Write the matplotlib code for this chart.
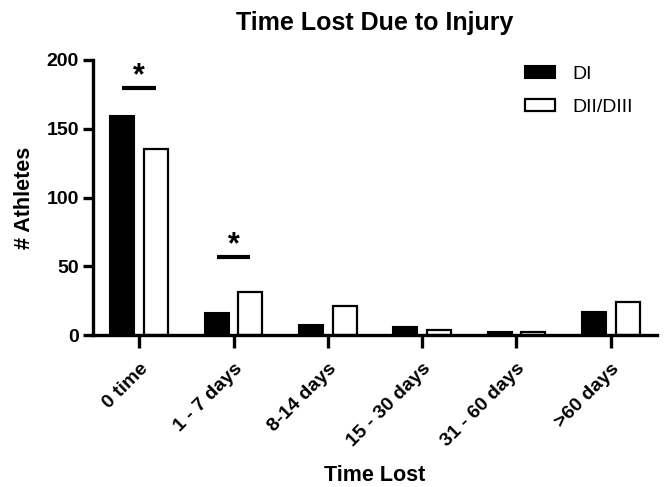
import numpy as np
import matplotlib
matplotlib.use('Agg')
import matplotlib.pyplot as plt

plt.rcParams['font.family'] = ['Liberation Sans', 'DejaVu Sans']

categories = ['0 time', '1 - 7 days', '8-14 days', '15 - 30 days', '31 - 60 days', '>60 days']
di = [159, 16, 7, 6, 2, 17]
dii_diii = [135, 31, 21, 4, 2, 24]
sig_groups = [0, 1]
sig_heights = [180, 57]

W, H = 672, 487
fig = plt.figure(figsize=(W / 100, H / 100), dpi=100)
ax = fig.add_axes([93 / W, 1 - 335 / H, (657 - 93) / W, 275 / H])

x = np.arange(len(categories))
w = 0.255
off = 0.178
ax.bar(x - off, di, w, color='black', edgecolor='black', linewidth=1.5, label='DI')
ax.bar(x + off, dii_diii, w, color='white', edgecolor='black', linewidth=1.6, label='DII/DIII')

# significance markers
for g, h in zip(sig_groups, sig_heights):
    ax.plot([g - off, g + off], [h, h], color='black', lw=3, solid_capstyle='butt')
    ax.text(g, h + 8, '*', ha='center', va='center', fontsize=22, fontweight='bold')

ax.set_xlim(-0.49, 5.49)
ax.set_ylim(0, 200)
ax.set_yticks([0, 50, 100, 150, 200])
ax.set_xticks(x)
ax.set_xticklabels(categories, rotation=45, ha='right', rotation_mode='anchor',
                   fontsize=14, fontweight='bold')
for lab in ax.get_yticklabels():
    lab.set_fontsize(14)
    lab.set_fontweight('bold')

for s in ['top', 'right']:
    ax.spines[s].set_visible(False)
for s in ['left', 'bottom']:
    ax.spines[s].set_linewidth(2.4)
ax.tick_params(axis='y', width=2.4, length=7, pad=3)
ax.tick_params(axis='x', width=2.4, length=9, pad=9)

ax.set_ylabel('# Athletes', fontsize=15.5, fontweight='bold')
ax.yaxis.set_label_coords((25 - 93) / 564, 0.5)
ax.yaxis.label.set_va('center')
ax.set_xlabel('Time Lost', fontsize=15.5, fontweight='bold')
ax.xaxis.set_label_coords(0.5, -(481 - 335) / 275)
ax.xaxis.label.set_va('baseline')
fig.text(375 / W, 1 - 30 / H, 'Time Lost Due to Injury', ha='center', va='baseline',
         fontsize=18, fontweight='bold')

leg = ax.legend(loc='upper left', bbox_to_anchor=(525 / W, 1 - 66 / H),
                bbox_transform=fig.transFigure, frameon=False, fontsize=14,
                borderpad=0, borderaxespad=0,
                handlelength=1.55, handleheight=0.57, labelspacing=0.8, handletextpad=0.88)

fig.savefig('out.png', dpi=100)
